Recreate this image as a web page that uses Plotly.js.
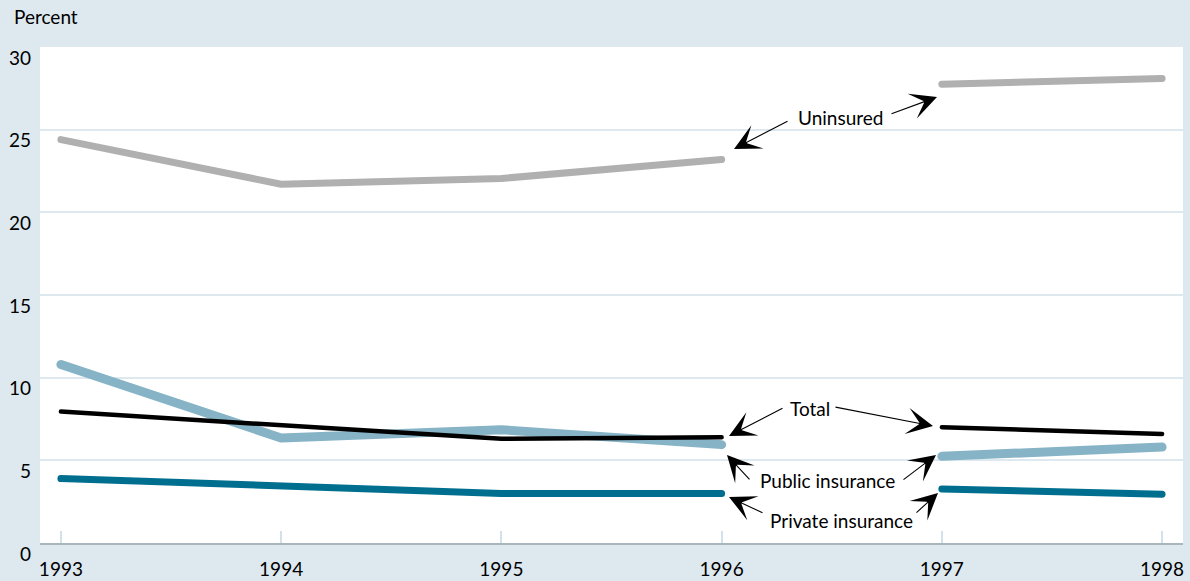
<!DOCTYPE html>
<html>
<head>
<meta charset="utf-8">
<script src="https://cdn.plot.ly/plotly-3.0.1.min.js"></script>
<style>
  html, body { margin: 0; padding: 0; background: #dde9ef; }
  #chart { width: 1190px; height: 581px; }
  .scatterlayer path.js-line { stroke-linecap: round !important; stroke-linejoin: round !important; }
</style>
</head>
<body>
<div id="chart"></div>
<script>
// ---- Data (percent) ----
const years = [1993, 1994, 1995, 1996, 1997, 1998];
const uninsured = [24.4, 21.7, 22.05, 23.2, 27.75, 28.1];
const publicIns = [10.8, 6.35, 6.85, 5.95, 5.25, 5.8];
const totalVals = [7.95, 7.1, 6.3, 6.4, 7.0, 6.6];
const privateIns = [3.9, 3.45, 3.0, 3.0, 3.27, 2.95];
const yTicks = [0, 5, 10, 15, 20, 25, 30];
const seriesLabels = ["Uninsured", "Total", "Public insurance", "Private insurance"];

const FONT = "Lato, 'Open Sans', sans-serif";

// Series drawn with a break between 1996 and 1997 (survey change)
function segTraces(vals, color, width, name) {
  return [
    { x: years.slice(0, 4), y: vals.slice(0, 4), mode: "lines", name: name,
      line: { color: color, width: width }, hoverinfo: "x+y", showlegend: false },
    { x: years.slice(4), y: vals.slice(4), mode: "lines", name: name,
      line: { color: color, width: width }, hoverinfo: "x+y", showlegend: false }
  ];
}

const traces = [].concat(
  segTraces(uninsured, "#b0b0b0", 7, "Uninsured"),
  segTraces(privateIns, "#006f8f", 7, "Private insurance"),
  segTraces(publicIns, "#86b3c6", 9, "Public insurance"),
  segTraces(totalVals, "#000000", 4.5, "Total")
);

// pixel helpers for annotation placement
const L = 40, R = 7, T = 47, B = 38, W = 1190, H = 581;
const xr = [1992.905, 1998.095], yr = [0, 30];
const pw = W - L - R, ph = H - T - B;
function px2x(px) { return xr[0] + (px - L) / pw * (xr[1] - xr[0]); }
function py2y(py) { return yr[0] + (H - B - py) / ph * (yr[1] - yr[0]); }

const annotations = [
  { text: "Percent", xref: "paper", yref: "paper", x: (12 - L) / pw, y: (H - B - 17) / ph,
    xanchor: "left", yanchor: "middle", showarrow: false, font: { family: FONT, size: 19, color: "#000" } }
];
const labelPos = [[840, 117], [810, 408], [827, 480], [841, 520]];
seriesLabels.forEach((t, i) => {
  annotations.push({ text: t, xref: "x", yref: "y", x: px2x(labelPos[i][0]), y: py2y(labelPos[i][1]),
    xanchor: "center", yanchor: "middle", showarrow: false, font: { family: FONT, size: 19, color: "#000" } });
});
const arrows = [
  [734, 149, 788, 121], [937, 97, 891, 114],
  [729, 436, 783, 408], [933, 426, 835, 407],
  [727, 455, 750, 480], [936, 455, 903, 480],
  [729, 497, 763, 513], [938, 493, 916, 513]
];
arrows.forEach(a => {
  annotations.push({ text: " ", font: { size: 1 }, borderpad: 0, xref: "x", yref: "y",
    x: px2x(a[0]), y: py2y(a[1]), ax: a[2] - a[0], ay: a[3] - a[1],
    showarrow: true, arrowhead: 3, arrowsize: 4, arrowwidth: 1.1, arrowcolor: "#000", standoff: 0 });
});

const layout = {
  width: W, height: H,
  margin: { l: L, r: R, t: T, b: B, pad: 0 },
  paper_bgcolor: "#dde9ef",
  plot_bgcolor: "#ffffff",
  showlegend: false,
  font: { family: FONT, size: 19, color: "#000" },
  xaxis: {
    range: xr, tickvals: years, ticktext: years.map(String),
    ticks: "inside", ticklen: 12, tickwidth: 2, tickcolor: "#d3e2ea",
    showline: true, linecolor: "#a9b6bd", linewidth: 2,
    showgrid: false, zeroline: false, fixedrange: true,
    ticklabelstandoff: 8,
    tickfont: { family: FONT, size: 19, color: "#000" }
  },
  yaxis: {
    range: yr, tickvals: yTicks, ticktext: yTicks.map(String),
    showgrid: true, gridcolor: "#dde9ef", gridwidth: 2,
    zeroline: false, showline: false, ticks: "", fixedrange: true,
    ticklabelshift: 11, ticklabelstandoff: 8,
    tickfont: { family: FONT, size: 19, color: "#000" }
  },
  annotations: annotations
};

Plotly.newPlot("chart", traces, layout, { displayModeBar: false, staticPlot: true });
</script>
</body>
</html>
